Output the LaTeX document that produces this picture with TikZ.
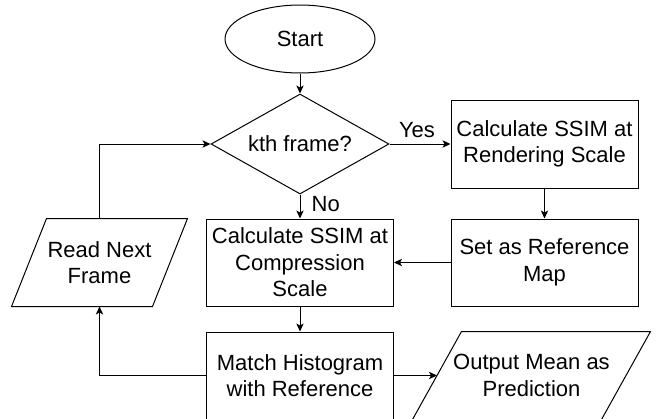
\documentclass[tikz,border=0pt]{standalone}
\usepackage{fontspec}
\setmainfont{Liberation Sans}
\usetikzlibrary{arrows,arrows.meta,positioning,calc,shapes.geometric}
\tikzstyle{startstop}=[draw,ellipse,minimum width=112.5pt,minimum height=51pt,inner sep=0pt]
\tikzstyle{decision}=[draw,diamond,aspect=1.78,minimum width=133.5pt,minimum height=75pt,inner sep=0pt]
\tikzstyle{process}=[draw,rectangle,minimum width=140.25pt,minimum height=65.25pt,inner sep=0pt,align=center]
\tikzstyle{io}=[rectangle,minimum height=65.25pt,inner sep=0pt,align=center]

\begin{document}
\begin{tikzpicture}[line width=0.75pt,>={Stealth[length=6pt,width=5.5pt,inset=1.5pt]},font=\fontsize{16.5}{19.8}\selectfont]
\useasboundingbox (0,0) rectangle (492pt,-313.5pt);
\node [startstop] (start) at (225pt,-29.25pt) {Start};
\node [decision,below=15pt of start] (kth) {kth frame?};
\node [process,right=45.75pt of kth,minimum height=66pt] (render) {Calculate SSIM at\\Rendering Scale};
\node [process,below=22.5pt of render] (setref) {Set as Reference\\Map};
\node [process,below=18pt of kth] (comp) {Calculate SSIM at\\Compression\\Scale};
\node [process,below=18.75pt of comp] (match) {Match Histogram\\with Reference};
\node [io,minimum width=105pt,left=27pt of comp] (read) {Read Next\\Frame};
\node [io,minimum width=141pt,right=32.25pt of match] (output) {Output Mean as\\Prediction};

% slanted sides of the input/output boxes
\foreach \n/\s in {read/13.125pt,output/18.375pt}
  \draw ($(\n.south west)+(-\s,0)$) -- ($(\n.north west)+(\s,0)$) -- ($(\n.north east)+(\s,0)$) -- ($(\n.south east)+(-\s,0)$) -- cycle;

\draw [->] (start) -- (kth);
\draw [->] (kth) -- node[pos=0.45,above,inner sep=4pt] {Yes} (render);
\draw [->] (kth) -- node[pos=0.4,right=5pt] {No} (comp);
\draw [->] (render) -- (setref);
\draw [->] (setref) -- (comp);
\draw [->] (comp) -- (match);
\draw [->] (match) -- (output);
\draw [->] (match.west) -| (read.south);
\draw [->] (read.north) |- (kth.west);
\end{tikzpicture}
\end{document}
